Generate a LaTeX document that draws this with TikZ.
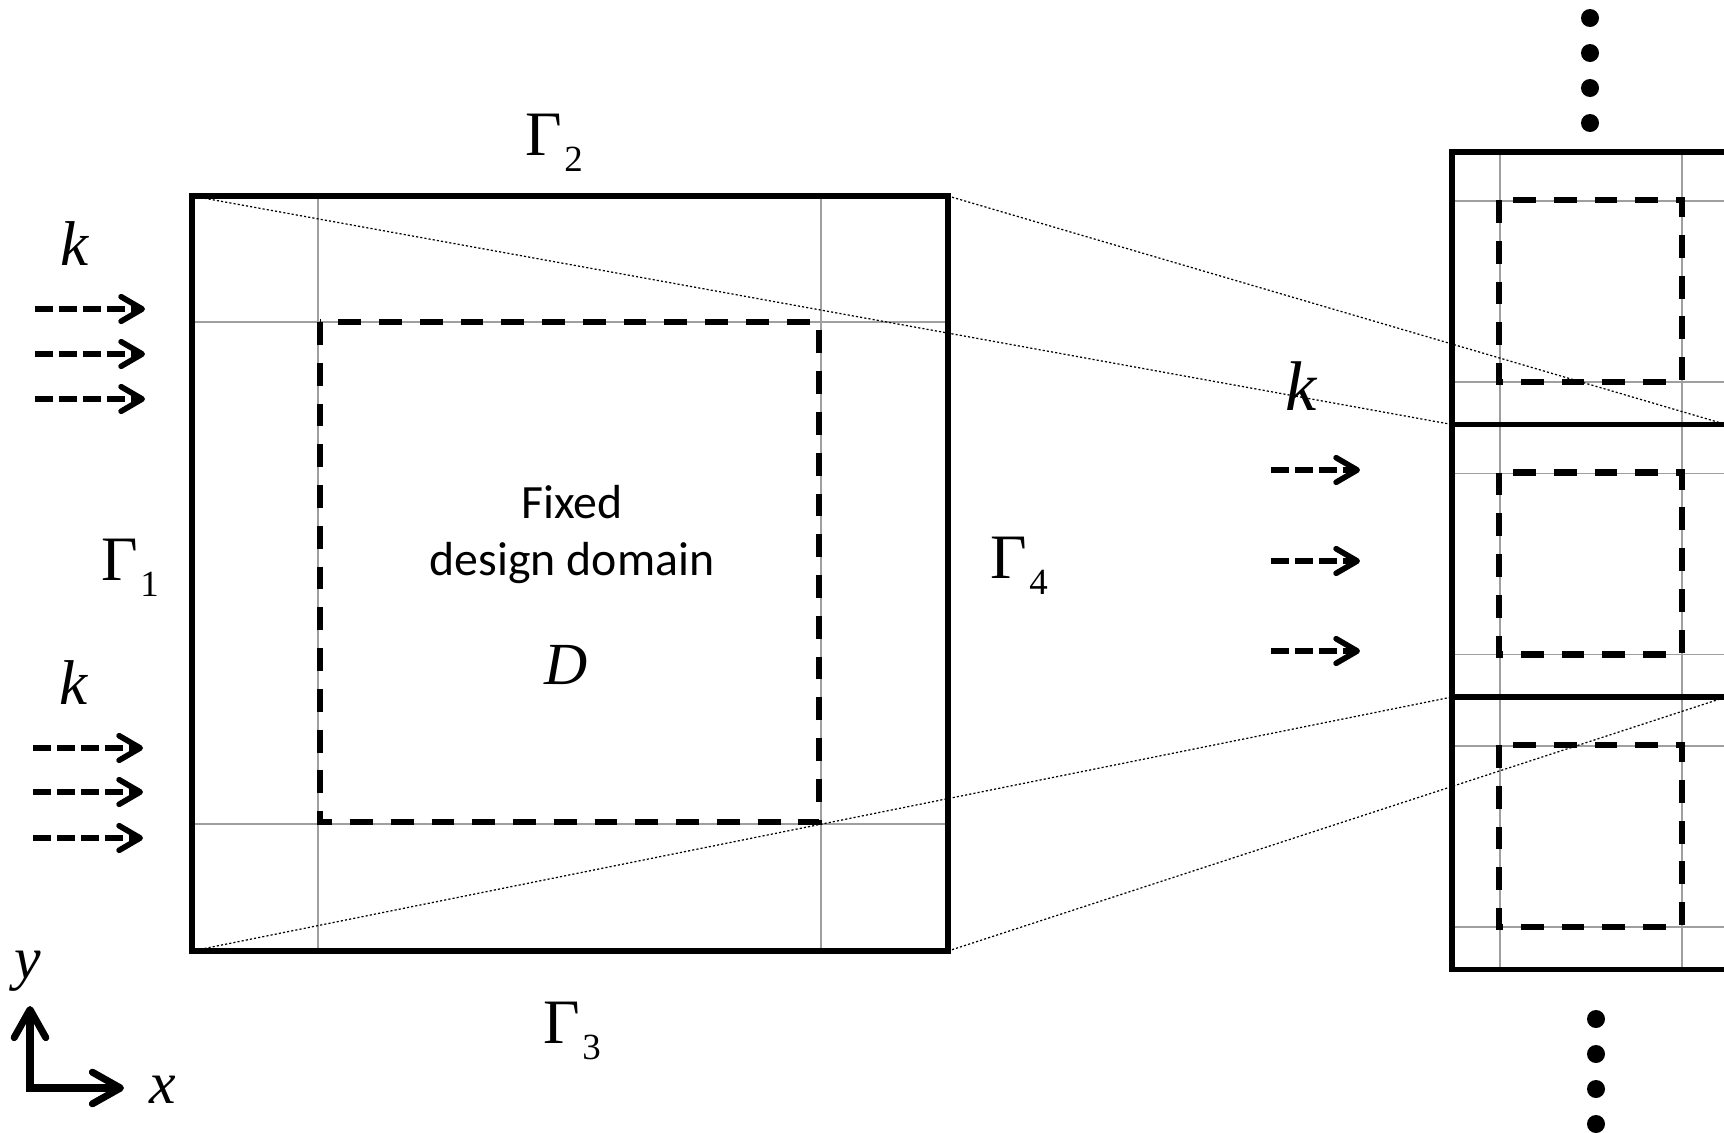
\documentclass[tikz,border=0pt]{standalone}
\usepackage{fontspec}
\setmainfont{Liberation Serif}
\newfontfamily\domfont{Carlito}
\usetikzlibrary{arrows.meta}
\newcommand{\bnd}[1]{Γ\kern0.6pt\raisebox{-4.8pt}{\fontsize{10.5}{12}\selectfont #1}}
\tikzset{
  frame/.style={line width=1.45pt},
  gridline/.style={line width=0.35pt, gray!75},
  fixedbox/.style={line width=1.85pt, dash pattern=on 6.5pt off 5.1pt},
  zoomline/.style={line width=0.35pt, dash pattern=on 0.6pt off 0.6pt},
  flux/.style={line width=1.6pt, dash pattern=on 5.1pt off 1.7pt,
    -{Straight Barb[length=6pt,width=7pt,round]}},
  axisarrow/.style={line width=2pt, {Straight Barb[length=8pt,width=9pt,round]}-{Straight Barb[length=8pt,width=9pt,round]}},
  bndlabel/.style={inner sep=0pt, anchor=base west, font=\fontsize{18}{20}\selectfont},
  mathlabel/.style={inner sep=0pt, anchor=base west, font=\itshape\fontsize{18}{20}\selectfont}
}
\begin{document}
\begin{tikzpicture}[x=0.1mm, y=-0.1mm]
\useasboundingbox (0,0) rectangle (1724,1133);
% fixed design domain
\coordinate (bigNW) at (192,196);
\coordinate (bigSE) at (948,951);
\coordinate (bigNE) at (948,196);
\coordinate (bigSW) at (192,951);
\foreach \gx in {318,821}
  \draw[gridline] (\gx,196) -- (\gx,951);
\foreach \gy in {322,824}
  \draw[gridline] (192,\gy) -- (948,\gy);
\draw[fixedbox] (320,322) rectangle (819,822);
\draw[frame] (bigNW) rectangle (bigSE);
% periodic column
\foreach \gx in {1500,1682}
  \draw[gridline] (\gx,152) -- (\gx,969);
\foreach \t in {152,424.5,697}{
  \draw[gridline] (1452,\t+49) -- (1726,\t+49);
  \draw[gridline] (1452,\t+230) -- (1726,\t+230);
  \draw[fixedbox] (1499,\t+48) rectangle (1682,\t+230);
  \draw[frame] (1452,\t) rectangle (1728,\t+272.5);
}
\coordinate (cellNW) at (1452,424.5);
\coordinate (cellNE) at (1726,424.5);
\coordinate (cellSW) at (1452,697);
\coordinate (cellSE) at (1726,697);
\draw[zoomline] (bigNW) -- (cellNW);
\draw[zoomline] (bigNE) -- (cellNE);
\draw[zoomline] (bigSW) -- (cellSW);
\draw[zoomline] (bigSE) -- (cellSE);
\foreach \dy in {18,53,88,123}
  \fill (1590,\dy) circle[radius=0.9mm];
\foreach \dy in {1019,1054,1089,1124}
  \fill (1596,\dy) circle[radius=0.9mm];
% labels
\node[bndlabel] (g1) at (101,580) {\bnd{1}};
\node[bndlabel] (g2) at (525,155) {\bnd{2}};
\node[bndlabel] (g3) at (543,1043) {\bnd{3}};
\node[bndlabel] (g4) at (990,578) {\bnd{4}};
\node[inner sep=0pt, anchor=base, font=\domfont\fontsize{13.6}{16.2}\selectfont] (fixed) at (572,518) {Fixed};
\node[inner sep=0pt, anchor=base, font=\domfont\fontsize{13.6}{16.2}\selectfont] (design) at (572,575) {design domain};
\node[inner sep=0pt, anchor=base, font=\itshape\fontsize{17}{19}\selectfont] (dlabel) at (566,684) {D};
% incident waves
\node[mathlabel] (k1) at (60,265) {k};
\node[mathlabel] (k2) at (59,704) {k};
\node[mathlabel, font=\itshape\fontsize{20}{22}\selectfont] (k3) at (1285,410) {k};
\foreach \fy in {309,354,399}
  \draw[flux] (35,\fy) -- (145,\fy);
\foreach \fy in {748,792,838}
  \draw[flux] (33,\fy) -- (143,\fy);
\foreach \fy in {470,561,651}
  \draw[flux] (1271,\fy) -- (1360,\fy);
% axes
\coordinate (yend) at (30,1006);
\coordinate (xend) at (124,1088);
\draw[axisarrow] (yend) |- (xend);
\node[inner sep=0pt, anchor=base, font=\itshape\fontsize{17}{19}\selectfont] (ylab) at (28,978) {y};
\node[inner sep=0pt, anchor=base, font=\itshape\fontsize{17}{19}\selectfont] (xlab) at (163,1103) {x};
\end{tikzpicture}
\end{document}
